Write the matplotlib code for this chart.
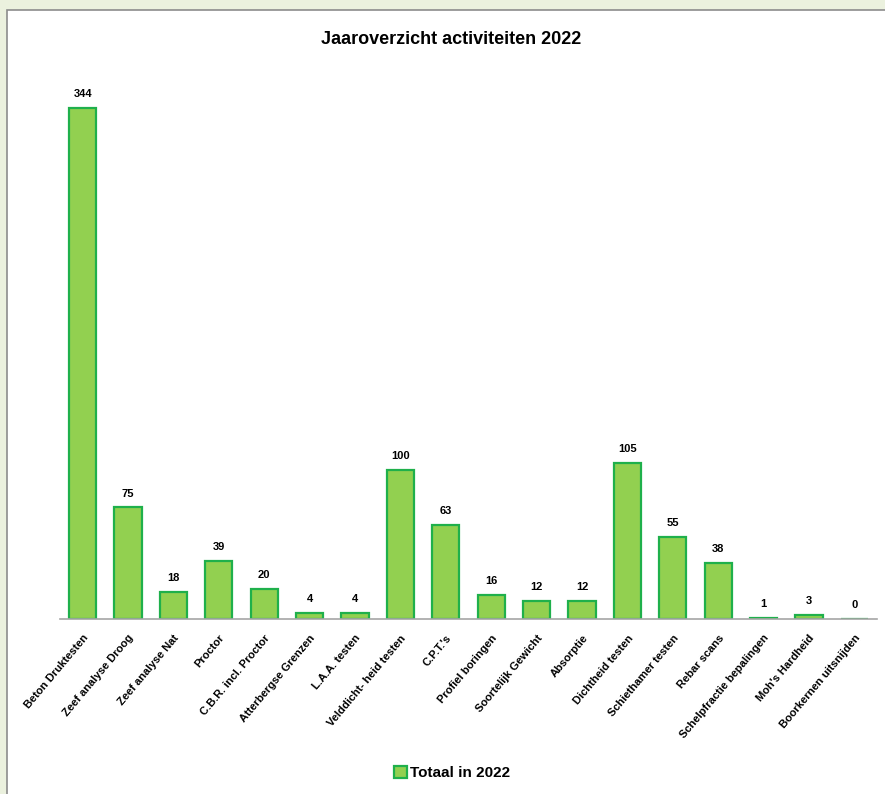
"""
Jaaroverzicht activiteiten 2022 - staafdiagram
"""
import matplotlib
matplotlib.use('Agg')
import matplotlib.pyplot as plt
from matplotlib.patches import Rectangle

plt.rcParams['font.family'] = ['Liberation Sans Narrow', 'Liberation Sans', 'DejaVu Sans']

# data
activiteiten = ['Beton Druktesten', 'Zeef analyse Droog', 'Zeef analyse Nat', 'Proctor',
                'C.B.R. incl. Proctor', 'Atterbergse Grenzen', 'L.A.A. testen',
                'Velddicht- heid testen', "C.P.T.'s", 'Profiel boringen', 'Soortelijk Gewicht',
                'Absorptie', 'Dichtheid testen', 'Schiethamer testen', 'Rebar scans',
                'Schelpfractie bepalingen', "Moh's Hardheid", 'Boorkernen uitsnijden']
totaal_2022 = [344, 75, 18, 39, 20, 4, 4, 100, 63, 16, 12, 12, 105, 55, 38, 1, 3, 0]

fig = plt.figure(figsize=(8.85, 7.94), dpi=100)
fig.patch.set_facecolor('#ebf1de')

# witte kaart met grijze rand
paneel = Rectangle((7 / 885, -0.01), 1.0, 1 - 10 / 794 + 0.01, transform=fig.transFigure,
                   facecolor='white', edgecolor='#8c8c8c', linewidth=1.2, zorder=-5)
fig.patches.append(paneel)

ax = fig.add_axes([60 / 885, 1 - 619 / 794, 817 / 885, 565 / 794])
ax.set_facecolor('none')
ax.set_zorder(2)

x = range(len(activiteiten))
bars = ax.bar(x, totaal_2022, width=0.6, color='#92d050', edgecolor='#1fb04b',
              linewidth=1.6, label='Totaal in 2022')

# waarden boven de staven
for xi, v in zip(x, totaal_2022):
    ax.text(xi, v + 6, str(v), ha='center', va='bottom', fontsize=8, fontweight='bold')

ax.set_xlim(-0.5, len(activiteiten) - 0.5)
ax.set_ylim(0, 380)
ax.set_xticks(list(x))
ax.set_xticklabels(activiteiten, rotation=50, ha='right', rotation_mode='anchor',
                   fontsize=8, fontweight='bold')
ax.tick_params(axis='x', length=0, pad=10)
ax.set_yticks([])
for s in ['top', 'right', 'left']:
    ax.spines[s].set_visible(False)
ax.spines['bottom'].set_color('#a6a6a6')
ax.spines['bottom'].set_linewidth(1.2)

fig.text(451 / 885, 1 - 40 / 794, 'Jaaroverzicht activiteiten 2022', ha='center', va='center',
         fontsize=13, fontweight='bold', zorder=3)

leg = fig.legend(handles=[bars], labels=['Totaal in 2022'], loc='center',
                 bbox_to_anchor=(452 / 885, 1 - 773 / 794), frameon=False,
                 prop={'size': 11, 'weight': 'bold'}, handlelength=0.8, handleheight=0.8,
                 handletextpad=0.2)
leg.set_zorder(3)

plt.savefig('out.png', dpi=100, facecolor=fig.get_facecolor())
